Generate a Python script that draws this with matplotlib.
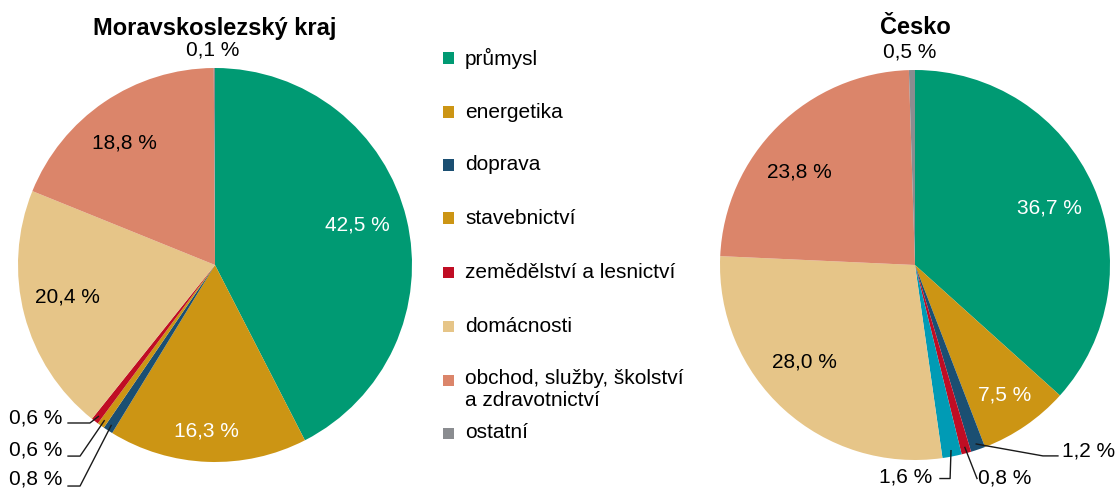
import matplotlib
matplotlib.use('Agg')
import matplotlib.pyplot as plt
from matplotlib.patches import Rectangle
import numpy as np

plt.rcParams['font.family'] = ['Liberation Sans', 'DejaVu Sans']

# legend categories and colours
categories = ['průmysl', 'energetika', 'doprava', 'stavebnictví',
              'zemědělství a lesnictví', 'domácnosti',
              'obchod, služby, školství\na zdravotnictví', 'ostatní']
cat_colors = ['#009A73', '#CC9514', '#1B4F72', '#CC9514',
              '#C00D24', '#E6C588', '#DB856A', '#8A8C90']

# Moravskoslezský kraj (clockwise from top)
msk_values = [42.5, 16.3, 0.8, 0.6, 0.6, 20.4, 18.8, 0.1]
msk_colors = ['#009A73', '#CC9514', '#1B4F72', '#CC9514',
              '#C00D24', '#E6C588', '#DB856A', '#8A8C90']

# Česko (clockwise from top)
cz_values = [36.7, 7.5, 1.2, 0.8, 1.6, 28.0, 23.8, 0.5]
cz_colors = ['#009A73', '#CC9514', '#1B4F72', '#C00D24',
             '#009BB5', '#E6C588', '#DB856A', '#8A8C90']

W, H = 1116, 488
FS = 15
fig = plt.figure(figsize=(W / 100, H / 100), dpi=100)


def fmt(v):
    return f'{v:.1f}'.replace('.', ',') + ' %'


def mid_angle(values, i):
    tot = sum(values)
    start = sum(values[:i]) / tot * 360
    span = values[i] / tot * 360
    return np.deg2rad(90 - start - span / 2)


def draw_pie(cx, cy, r, values, colors, title, inner, leaders):
    ax = fig.add_axes([(cx - r) / W, (H - cy - r) / H, 2 * r / W, 2 * r / H])
    ax.pie(values, colors=colors, startangle=90, counterclock=False,
           radius=1, wedgeprops=dict(linewidth=0))
    ax.set_xlim(-1, 1)
    ax.set_ylim(-1, 1)
    ax.set_aspect('equal')
    ax.axis('off')
    # labels inside / next to the pie
    for i, (x, y, c) in inner.items():
        ax.text(x, y, fmt(values[i]), ha='center', va='center',
                fontsize=FS, color=c, clip_on=False)
    # small slices with leader lines
    for i, (path, tx, ty, ha) in leaders.items():
        a = mid_angle(values, i)
        xs = [0.97 * np.cos(a)] + [p[0] for p in path]
        ys = [0.97 * np.sin(a)] + [p[1] for p in path]
        ax.plot(xs, ys, color='#1a1a1a', lw=1.0, clip_on=False)
        ax.text(tx, ty, fmt(values[i]), ha=ha, va='center',
                fontsize=FS, clip_on=False)
    fig.text(cx / W, 1 - 28 / H, title, ha='center', va='center',
             fontsize=17, fontweight='bold')


draw_pie(215, 265, 197, msk_values, msk_colors, 'Moravskoslezský kraj',
         inner={0: (0.721, 0.203, 'white'), 1: (-0.041, -0.843, 'white'),
                5: (-0.751, -0.162, 'black'), 6: (-0.462, 0.619, 'black'),
                7: (-0.01, 1.09, 'black')},
         leaders={4: ([(-0.635, -0.802), (-0.746, -0.802)], -0.777, -0.777, 'right'),
                  3: ([(-0.685, -0.970), (-0.746, -0.970)], -0.777, -0.939, 'right'),
                  2: ([(-0.685, -1.122), (-0.746, -1.122)], -0.777, -1.085, 'right')})

draw_pie(915, 265, 195, cz_values, cz_colors, 'Česko',
         inner={0: (0.690, 0.292, 'white'), 1: (0.459, -0.667, 'white'),
                5: (-0.569, -0.497, 'black'), 6: (-0.592, 0.477, 'black'),
                7: (-0.026, 1.092, 'black')},
         leaders={2: ([(0.656, -0.979), (0.733, -0.979)], 0.754, -0.954, 'left'),
                  3: ([(0.318, -1.095)], 0.323, -1.09, 'left'),
                  4: ([(0.18, -1.095), (0.128, -1.095)], 0.087, -1.085, 'right')})

# legend
rows_y = [58, 112, 165, 218, 272, 326, 380, 433]
for cat, col, y in zip(categories, cat_colors, rows_y):
    fig.patches.append(Rectangle((443 / W, 1 - (y + 5.5) / H), 11 / W, 11 / H,
                                 transform=fig.transFigure, color=col, lw=0))
    if '\n' in cat:
        fig.text(465 / W, 1 - (y - 11) / H, cat, ha='left', va='top',
                 fontsize=FS, linespacing=1.2)
    else:
        fig.text(465 / W, 1 - y / H, cat, ha='left', va='center', fontsize=FS)

fig.savefig('out.png', dpi=100)
